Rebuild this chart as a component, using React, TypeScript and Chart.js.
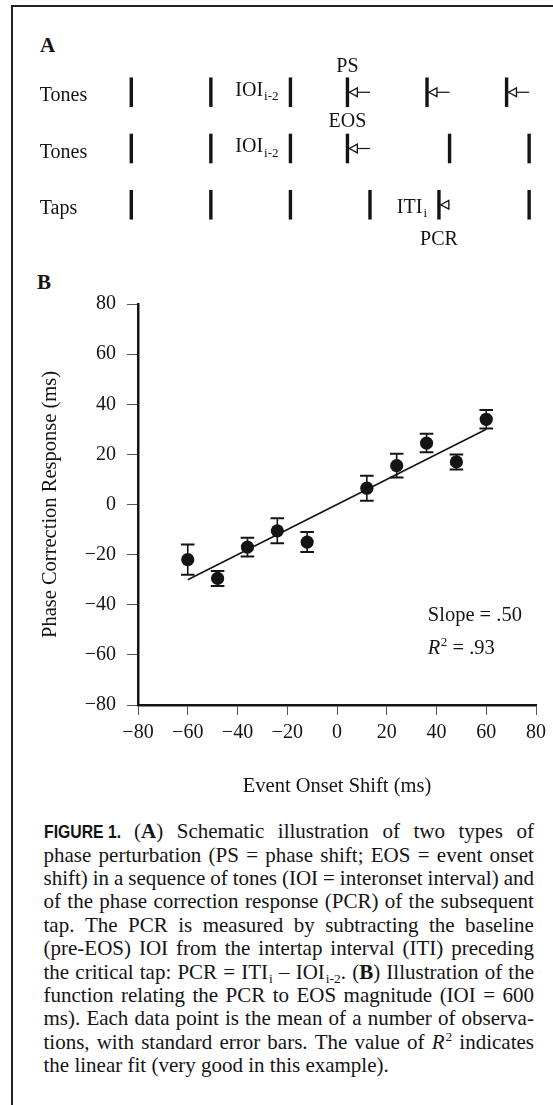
import React, { useEffect, useRef } from 'react';
import { Chart, registerables } from 'chart.js';

Chart.register(...registerables);

const SERIF = "'Liberation Serif', 'Times New Roman', Times, serif";
const SANS = "'Liberation Sans', Arial, Helvetica, sans-serif";
const INK = '#141414';

// ---------- Panel B data ----------
const eosShift = [-60, -48, -36, -24, -12, 12, 24, 36, 48, 60];
const pcrMean = [-22, -29.5, -17, -10.5, -15, 6.5, 15.5, 24.5, 17, 34];
const pcrSE = [6, 3, 3.7, 5, 4, 5, 4.7, 3.7, 3, 3.7];
const fitX = [-60, 60];
const fitY = [-30, 30];
const axisMin = -80;
const axisMax = 80;
const axisStep = 20;
const slopeLabel = 'Slope = .50';
const r2Label = ' = .93';
const statsAnchorX = 36.5;
const statsAnchorY = -44.5;

// ---------- Panel A data (schematic, ms) ----------
const rowLabels = ['Tones', 'Tones', 'Taps'];
const rowLevels = [3, 2, 1];
const psTones = [0, 600, 1200, 1630, 2230, 2830];
const eosTones = [0, 600, 1200, 1630, 2400, 3000];
const taps = [0, 600, 1200, 1800, 2320, 3000];
const arrowFrom = [1800, 2400, 3000, 1800, 2400];
const arrowTo = [1630, 2230, 2830, 1630, 2320];
const arrowRow = [3, 3, 3, 2, 1];
const schemLabels = [
  { text: 'PS', sub: '', x: 1630, y: 3.45, align: 'center' },
  { text: 'IOI', sub: 'i-2', x: 1110, y: 3.03, align: 'right' },
  { text: 'EOS', sub: '', x: 1630, y: 2.48, align: 'center' },
  { text: 'IOI', sub: 'i-2', x: 1110, y: 2.03, align: 'right' },
  { text: 'ITI', sub: 'i', x: 2230, y: 0.95, align: 'right' },
  { text: 'PCR', sub: '', x: 2320, y: 0.38, align: 'center' },
];
const rowLabelX = -690;
const rowLabelDy = -0.07;

// ---------- Caption ----------
const captionLines = [
  '#FIG (**A**) Schematic illustration of two types of',
  'phase perturbation (PS = phase shift; EOS = event onset',
  'shift) in a sequence of tones (IOI = interonset interval) and',
  'of the phase correction response (PCR) of the subsequent',
  'tap. The PCR is measured by subtracting the baseline',
  '(pre-EOS) IOI from the intertap interval (ITI) preceding',
  'the critical tap: PCR = ITI_{i} – IOI_{i-2}. (**B**) Illustration of the',
  'function relating the PCR to EOS magnitude (IOI = 600',
  'ms). Each data point is the mean of a number of observa-',
  'tions, with standard error bars. The value of *R*^{2} indicates',
  'the linear fit (very good in this example).',
];

function drawRich(ctx: CanvasRenderingContext2D, text: string, sub: string, x: number, y: number, align: string, size: number) {
  const mainFont = `${size}px ${SERIF}`;
  const subFont = `${Math.round(size * 0.64)}px ${SERIF}`;
  ctx.font = mainFont;
  const w1 = ctx.measureText(text).width;
  let w2 = 0;
  if (sub) {
    ctx.font = subFont;
    w2 = ctx.measureText(sub).width + 1;
  }
  const total = w1 + w2;
  const sx = align === 'right' ? x - total : align === 'center' ? x - total / 2 : x;
  ctx.textAlign = 'left';
  ctx.textBaseline = 'middle';
  ctx.fillStyle = INK;
  ctx.font = mainFont;
  ctx.fillText(text, sx, y);
  if (sub) {
    ctx.font = subFont;
    ctx.fillText(sub, sx + w1 + 1, y + size * 0.32);
  }
}

const schematicPlugin = {
  id: 'schematic',
  afterDatasetsDraw(chart: any) {
    const { ctx, scales } = chart;
    const x = scales.x;
    const y = scales.y;
    ctx.save();
    arrowTo.forEach((t: number, i: number) => {
      const tipX = x.getPixelForValue(t) + 1.9;
      const py = y.getPixelForValue(arrowRow[i]);
      const len = 8;
      const half = 4.4;
      ctx.beginPath();
      ctx.moveTo(tipX, py);
      ctx.lineTo(tipX + len, py - half);
      ctx.lineTo(tipX + len, py + half);
      ctx.closePath();
      ctx.fillStyle = '#fff';
      ctx.fill();
      ctx.lineWidth = 1.3;
      ctx.strokeStyle = INK;
      ctx.stroke();
    });
    rowLabels.forEach((lab: string, i: number) => {
      drawRich(ctx, lab, '', x.getPixelForValue(rowLabelX), y.getPixelForValue(rowLevels[i] + rowLabelDy), 'left', 20);
    });
    schemLabels.forEach((l) => {
      drawRich(ctx, l.text, l.sub, x.getPixelForValue(l.x), y.getPixelForValue(l.y), l.align, 20);
    });
    ctx.restore();
  },
};

const errorBarPlugin = {
  id: 'errorBars',
  afterDatasetsDraw(chart: any) {
    const { ctx, scales } = chart;
    const x = scales.x;
    const y = scales.y;
    ctx.save();
    ctx.strokeStyle = INK;
    eosShift.forEach((xv: number, i: number) => {
      const px = x.getPixelForValue(xv);
      const top = y.getPixelForValue(pcrMean[i] + pcrSE[i]);
      const bot = y.getPixelForValue(pcrMean[i] - pcrSE[i]);
      ctx.lineWidth = 1.6;
      ctx.beginPath();
      ctx.moveTo(px, top);
      ctx.lineTo(px, bot);
      ctx.stroke();
      ctx.lineWidth = 2;
      ctx.beginPath();
      ctx.moveTo(px - 6.8, top);
      ctx.lineTo(px + 6.8, top);
      ctx.moveTo(px - 6.8, bot);
      ctx.lineTo(px + 6.8, bot);
      ctx.stroke();
    });
    const sx = x.getPixelForValue(statsAnchorX);
    const sy = y.getPixelForValue(statsAnchorY);
    ctx.fillStyle = INK;
    ctx.textAlign = 'left';
    ctx.textBaseline = 'middle';
    ctx.font = `20.5px ${SERIF}`;
    ctx.fillText(slopeLabel, sx, sy);
    const ry = sy + 32.5;
    ctx.font = `italic 20.5px ${SERIF}`;
    ctx.fillText('R', sx, ry);
    const wR = ctx.measureText('R').width;
    ctx.font = `13px ${SERIF}`;
    ctx.fillText('2', sx + wR + 0.5, ry - 5.5);
    const w2 = ctx.measureText('2').width;
    ctx.font = `20.5px ${SERIF}`;
    ctx.fillText(r2Label, sx + wR + 0.5 + w2, ry);
    ctx.restore();
  },
};

const fmtTick = (v: any) => {
  const n = Number(v);
  return n < 0 ? '\u2212' + Math.abs(n) : String(n);
};

function renderWord(w: string, key: number) {
  if (w === '#FIG') {
    return (
      <span key={key} style={{ display: 'inline-block', width: 77, whiteSpace: 'nowrap' }}>
        <span
          style={{
            display: 'inline-block',
            fontFamily: SANS,
            fontWeight: 700,
            fontSize: 19,
            transform: 'scaleX(0.83)',
            transformOrigin: '0 50%',
          }}
        >
          FIGURE 1.
        </span>
      </span>
    );
  }
  const parts = w.split(/(\*\*[^*]+\*\*|\*[^*]+\*|_\{[^}]+\}|\^\{[^}]+\})/).filter(Boolean);
  return (
    <span key={key} style={{ whiteSpace: 'nowrap' }}>
      {parts.map((p, j) => {
        if (p.startsWith('**')) return <b key={j}>{p.slice(2, -2)}</b>;
        if (p.startsWith('*')) return <i key={j}>{p.slice(1, -1)}</i>;
        if (p.startsWith('_{'))
          return (
            <span key={j} style={{ fontSize: '0.64em', position: 'relative', top: '0.32em', marginLeft: 1 }}>
              {p.slice(2, -1)}
            </span>
          );
        if (p.startsWith('^{'))
          return (
            <span key={j} style={{ fontSize: '0.64em', position: 'relative', top: '-0.6em', marginLeft: 1 }}>
              {p.slice(2, -1)}
            </span>
          );
        return <React.Fragment key={j}>{p}</React.Fragment>;
      })}
    </span>
  );
}

export default function App() {
  const aRef = useRef<HTMLCanvasElement>(null);
  const bRef = useRef<HTMLCanvasElement>(null);

  useEffect(() => {
    Chart.defaults.font.family = SERIF;
    Chart.defaults.color = INK;

    const tickSet = (xs: number[], level: number) => ({
      data: xs.map((v) => ({ x: v, y: level })),
      showLine: false,
      pointStyle: 'line',
      pointRotation: 90,
      pointRadius: 14.8,
      pointHoverRadius: 14.8,
      pointBorderWidth: 3.4,
      pointBorderColor: INK,
      pointBackgroundColor: INK,
    });

    const chartA = new Chart(aRef.current as HTMLCanvasElement, {
      type: 'scatter',
      data: {
        datasets: [
          tickSet(psTones, rowLevels[0]),
          tickSet(eosTones, rowLevels[1]),
          tickSet(taps, rowLevels[2]),
          ...arrowFrom.map((f, i) => ({
            data: [
              { x: f, y: arrowRow[i] },
              { x: arrowTo[i], y: arrowRow[i] },
            ],
            showLine: true,
            borderColor: INK,
            borderWidth: 1.2,
            pointRadius: 0,
            pointHoverRadius: 0,
          })),
        ] as any,
      },
      options: {
        responsive: false,
        animation: false,
        events: [],
        layout: { padding: 0, autoPadding: false },
        plugins: { legend: { display: false }, tooltip: { enabled: false } },
        scales: {
          x: { type: 'linear', min: -990, max: 3180, display: false },
          y: { type: 'linear', min: 0, max: 4, display: false },
        },
      } as any,
      plugins: [schematicPlugin],
    });

    const tickFont = { family: SERIF, size: 20 };
    const titleFont = { family: SERIF, size: 20.5 };

    const chartB = new Chart(bRef.current as HTMLCanvasElement, {
      type: 'scatter',
      data: {
        datasets: [
          {
            data: eosShift.map((v, i) => ({ x: v, y: pcrMean[i] })),
            pointRadius: 6.6,
            pointHoverRadius: 6.6,
            pointBackgroundColor: INK,
            pointBorderWidth: 0,
            showLine: false,
          },
          {
            data: fitX.map((v, i) => ({ x: v, y: fitY[i] })),
            showLine: true,
            borderColor: INK,
            borderWidth: 1.6,
            pointRadius: 0,
            pointHoverRadius: 0,
          },
        ] as any,
      },
      options: {
        responsive: false,
        animation: false,
        events: [],
        layout: { padding: { top: 34, right: 17, bottom: 0, left: 0 }, autoPadding: false },
        plugins: { legend: { display: false }, tooltip: { enabled: false } },
        scales: {
          x: {
            type: 'linear',
            min: axisMin,
            max: axisMax,
            ticks: { stepSize: axisStep, font: tickFont, color: INK, padding: 6, maxRotation: 0, autoSkip: false, callback: fmtTick },
            grid: { drawOnChartArea: false, drawTicks: true, tickLength: 10, color: '#555', lineWidth: 1 },
            border: { display: true, color: INK, width: 2.5 },
            title: { display: true, text: 'Event Onset Shift (ms)', font: titleFont, color: INK, padding: { top: 0, bottom: 6 } },
            afterFit: (s: any) => {
              s.height = 100;
            },
          },
          y: {
            type: 'linear',
            min: axisMin,
            max: axisMax,
            ticks: { stepSize: axisStep, font: tickFont, color: INK, padding: 11, autoSkip: false, callback: fmtTick },
            grid: { drawOnChartArea: false, drawTicks: true, tickLength: 11, color: '#555', lineWidth: 1 },
            border: { display: true, color: INK, width: 2.5 },
            title: { display: true, text: 'Phase Correction Response (ms)', font: titleFont, color: INK, padding: { top: 38, bottom: 0 } },
            afterFit: (s: any) => {
              s.width = 138;
            },
          },
        },
      } as any,
      plugins: [errorBarPlugin],
    });

    return () => {
      chartA.destroy();
      chartB.destroy();
    };
  }, []);

  return (
    <div
      style={{
        position: 'absolute',
        left: 0,
        top: 0,
        width: 553,
        height: 1105,
        overflow: 'hidden',
        background: '#fff',
        fontFamily: SERIF,
        color: INK,
      }}
    >
      <div
        style={{
          position: 'absolute',
          left: 11,
          top: 5,
          width: 700,
          height: 1200,
          borderTop: '2px solid #222',
          borderLeft: '2px solid #222',
        }}
      />
      <div style={{ position: 'absolute', left: 40, top: 35.4, fontSize: 21, lineHeight: '21px', fontWeight: 'bold' }}>A</div>
      <canvas
        ref={aRef}
        width={553}
        height={225}
        style={{ position: 'absolute', left: 0, top: 36, width: 553, height: 225, display: 'block' }}
      />
      <div style={{ position: 'absolute', left: 37, top: 271.9, fontSize: 21, lineHeight: '21px', fontWeight: 'bold' }}>B</div>
      <canvas
        ref={bRef}
        width={553}
        height={535}
        style={{ position: 'absolute', left: 0, top: 270, width: 553, height: 535, display: 'block' }}
      />
      <div style={{ position: 'absolute', left: 43.5, top: 820.2, width: 490.5, fontSize: 21, lineHeight: '23.4px' }}>
        {captionLines.map((line, i) => {
          const words = line.split(' ');
          const last = i === captionLines.length - 1;
          if (last) {
            return (
              <div key={i} style={{ height: 23.4, whiteSpace: 'nowrap' }}>
                {words.map((w, k) => (
                  <React.Fragment key={k}>
                    {k > 0 ? ' ' : ''}
                    {renderWord(w, k)}
                  </React.Fragment>
                ))}
              </div>
            );
          }
          return (
            <div
              key={i}
              style={{ height: 23.4, display: 'flex', justifyContent: 'space-between', alignItems: 'baseline', whiteSpace: 'nowrap' }}
            >
              {words.map((w, k) => renderWord(w, k))}
            </div>
          );
        })}
      </div>
    </div>
  );
}
